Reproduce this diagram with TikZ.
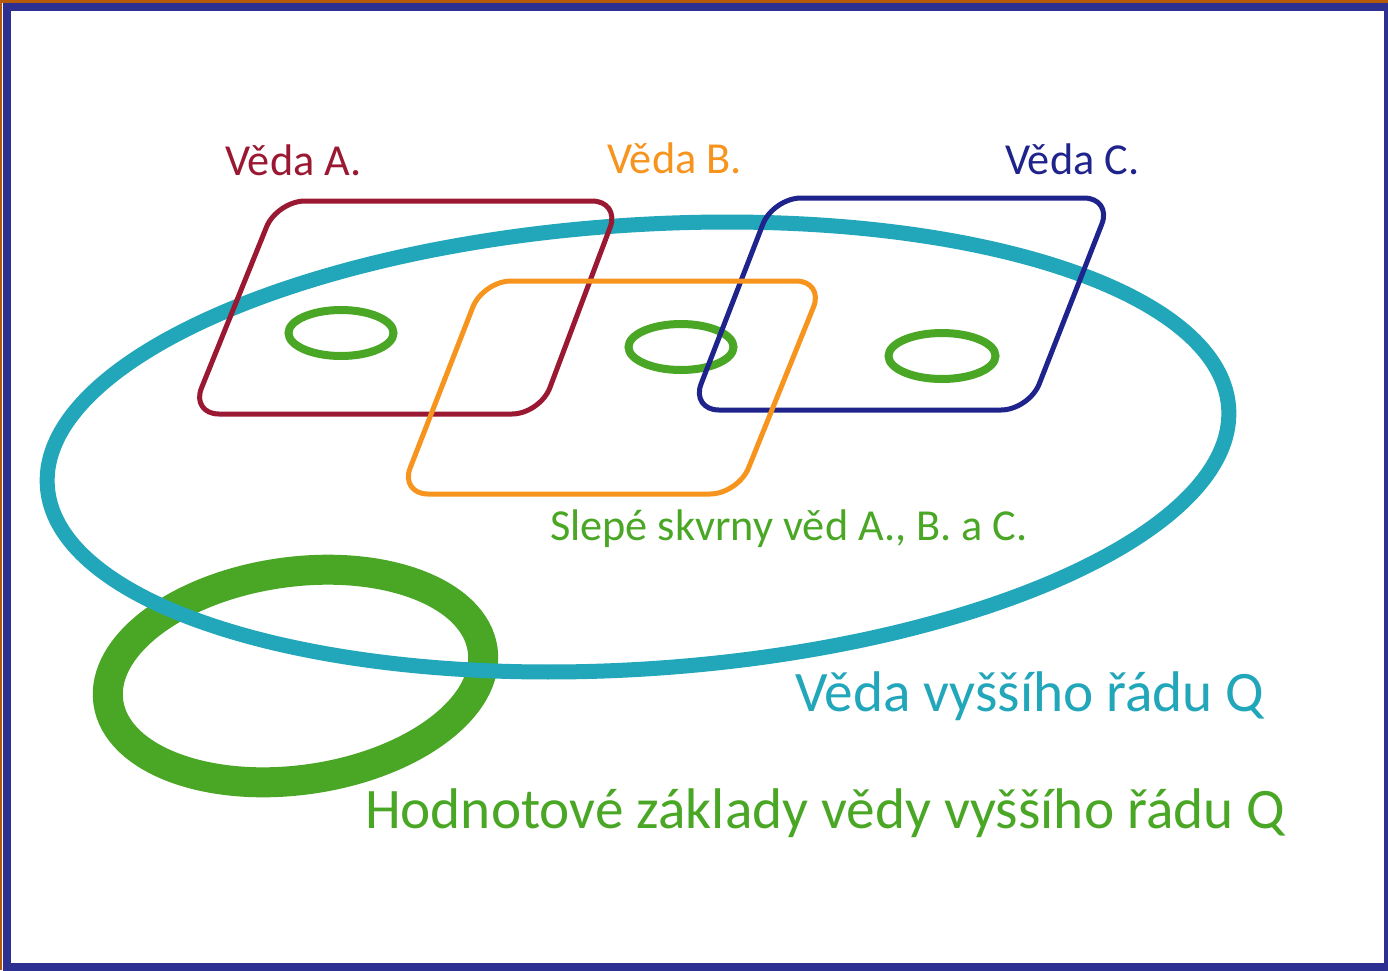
\documentclass[tikz,border=0pt]{standalone}
\usepackage{fontspec}
\setmainfont{Carlito}
\definecolor{cRed}{RGB}{155,24,50}
\definecolor{cOrange}{RGB}{247,148,29}
\definecolor{cBlue}{RGB}{30,36,140}
\definecolor{cTeal}{RGB}{33,166,186}
\definecolor{cGreen}{RGB}{74,167,38}
\definecolor{cFrame}{RGB}{45,48,145}
\definecolor{cFrameOut}{RGB}{180,90,10}
\newcommand{\labsmallfont}{\fontsize{44.3}{50}\selectfont}
\newcommand{\labbigfont}{\fontsize{57.3}{64}\selectfont}
\begin{document}
\begin{tikzpicture}[x=1pt,y=-1pt,
  lab/.style={anchor=base west, inner sep=0pt, outer sep=0pt},
  sciencebox/.style={line width=5pt, rounded corners=28pt, line join=round},
  spot/.style={cGreen, line width=8pt},
]
\useasboundingbox (0,0) rectangle (1388,970);
\fill[white] (0,0) rectangle (1388,970);
\begin{scope}
  \clip (0,0) rectangle (1388,970);
  \fill[cFrameOut] (0,0) rectangle (1388,3);
  \fill[cFrameOut] (0,0) rectangle (2.2,970);
  \draw[cFrame, line width=8pt] (7,7) rectangle (1388,967);
\end{scope}

% value foundations ring
\draw[cGreen, line width=30pt, rotate around={8:(295.5,676)}] (295.5,676) ellipse [x radius=189, y radius=104];
% higher order science
\draw[cTeal, line width=15pt, rotate around={3.8:(638,447)}] (638,447) ellipse [x radius=592, y radius=222];

% blind spots
\draw[spot] (341,333) ellipse [x radius=52.5, y radius=23];
\draw[spot] (681,347) ellipse [x radius=52.5, y radius=23];
\draw[spot] (942,356) ellipse [x radius=53.5, y radius=23];

% sciences
\draw[sciencebox, cRed] (277,201) -- (620,201) -- (540,414) -- (191,414) -- cycle;
\draw[sciencebox, cBlue] (773,198) -- (1112,198) -- (1029,410) -- (691,410) -- cycle;
\draw[sciencebox, cOrange] (483,281) -- (824,281) -- (738,494) -- (400,494) -- cycle;

% labels
\node[lab, text=cRed, font=\labsmallfont] (vA) at (225,175) {Věda A.};
\node[lab, text=cOrange, font=\labsmallfont] (vB) at (607,173) {Věda B.};
\node[lab, text=cBlue, font=\labsmallfont] (vC) at (1005,174) {Věda C.};
\node[lab, text=cGreen, font=\labsmallfont] (spots) at (550,540) {Slepé skvrny věd A., B. a C.};
\node[lab, text=cTeal, font=\labbigfont] (vQ) at (795,711) {Věda vyššího řádu Q};
\node[lab, text=cGreen, font=\labbigfont] (hQ) at (365,828) {Hodnotové základy vědy vyššího řádu Q};
\end{tikzpicture}
\end{document}
